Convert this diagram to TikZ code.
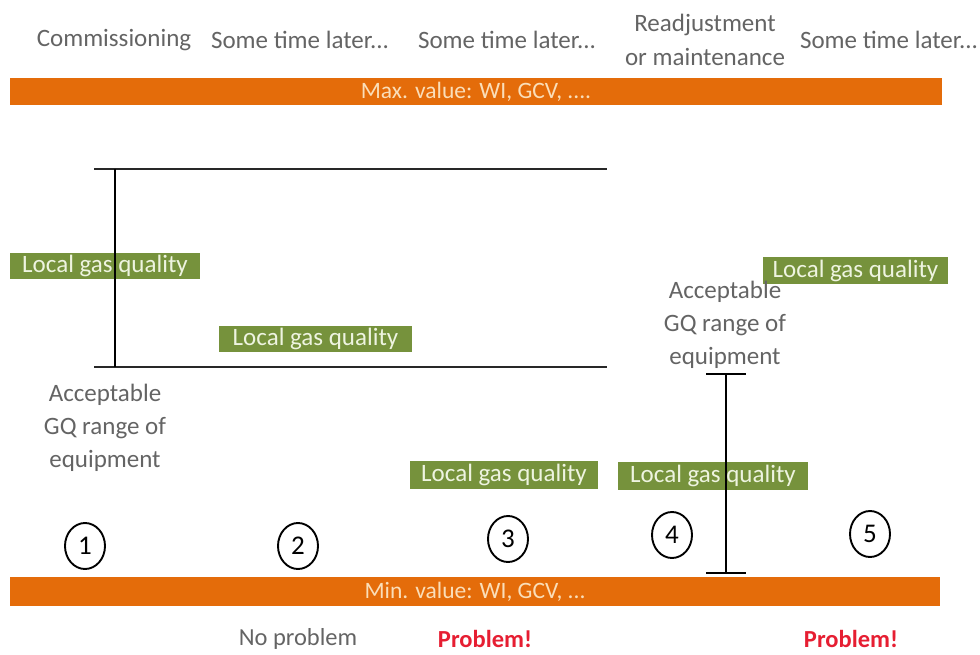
\documentclass[tikz,border=0pt]{standalone}
\usepackage{fontspec}
\setmainfont{Carlito}
\usetikzlibrary{shapes.geometric}
\definecolor{barorange}{RGB}{228,108,10}
\definecolor{bartext}{RGB}{250,222,185}
\definecolor{gqgreen}{RGB}{118,146,60}
\definecolor{gqtext}{RGB}{238,244,224}
\definecolor{labelgray}{RGB}{100,100,100}
\definecolor{alertred}{RGB}{230,30,50}
\definecolor{rangeline}{RGB}{40,40,40}
\tikzset{
  toplabel/.style={text=labelgray, font=\fontsize{25}{34}\selectfont, align=center, inner sep=0},
  limitbar/.style={fill=barorange, text=bartext, font=\fontsize{23.5}{26}\selectfont, inner sep=0, minimum width=930pt, minimum height=28pt},
  gqbox/.style={fill=gqgreen, text=gqtext, font=\fontsize{25}{26}\selectfont, inner sep=0, minimum height=27pt},
  rangetext/.style={text=labelgray, font=\fontsize{25}{33}\selectfont, align=center, inner sep=0},
  stagenum/.style={draw=black, line width=1.9pt, ellipse, minimum width=40pt, minimum height=46pt, inner sep=0, font=\fontsize{27}{28}\selectfont},
  rangebar/.style={draw=rangeline, line width=2.8pt},
  rangespan/.style={draw=black, line width=2.4pt},
  verdict/.style={font=\fontsize{24.5}{26}\selectfont, inner sep=0},
}
\begin{document}
\begin{tikzpicture}[x=1pt,y=-1pt]
\useasboundingbox (0,0) rectangle (980,655);

% stage headings
\node[toplabel] (h1) at (114,40) {Commissioning};
\node[toplabel] (h2) at (300,40) {Some time later...};
\node[toplabel] (h3) at (507,40) {Some time later...};
\node[toplabel] (h4) at (705,40) {Readjustment\\or maintenance};
\node[toplabel] (h5) at (889,40) {Some time later...};

% limit bars
\node[limitbar, minimum width=932pt, minimum height=27pt] (maxbar) at (476,91.5) {Max. value: WI, GCV, ....};
\node[limitbar, minimum height=29pt] (minbar) at (475,591.5) {Min. value: WI, GCV, ...};

% local gas quality at each stage
\node[gqbox, minimum width=190pt, minimum height=26pt] (g1) at (105,266) {Local gas quality};
\node[gqbox, minimum width=193pt, minimum height=26pt] (g2) at (315.5,339) {Local gas quality};
\node[gqbox, minimum width=188pt, minimum height=28pt] (g3) at (504,474.5) {Local gas quality};
\node[gqbox, minimum width=190pt, minimum height=28pt] (g4) at (713,476) {Local gas quality};
\node[gqbox, minimum width=185pt, minimum height=27pt] (g5) at (855.5,270.5) {Local gas quality};

% original acceptable range of the equipment
\coordinate (hiL) at (94,169);
\coordinate (hiR) at (607,169);
\coordinate (loL) at (94,367);
\coordinate (loR) at (607,367);
\coordinate (spanTop) at (115,169);
\coordinate (spanBot) at (115,367);
\draw[rangebar] (hiL) -- (hiR);
\draw[rangebar] (loL) -- (loR);
\draw[rangespan] (spanTop) -- (spanBot);
\node[rangetext] (acc1) at (105,428) {Acceptable\\GQ range of\\equipment};

% range after readjustment
\coordinate (rTop) at (726,374);
\coordinate (rBot) at (726,573);
\coordinate (rTopL) at (706,374);
\coordinate (rTopR) at (746,374);
\coordinate (rBotL) at (706,573);
\coordinate (rBotR) at (746,573);
\draw[rangespan] (rTop) -- (rBot);
\draw[rangespan] (rTopL) -- (rTopR);
\draw[rangespan] (rBotL) -- (rBotR);
\node[rangetext] (acc2) at (725,325) {Acceptable\\GQ range of\\equipment};

% stage numbers
\node[stagenum] (n1) at (85,546) {1};
\node[stagenum] (n2) at (298,546) {2};
\node[stagenum] (n3) at (508,539) {3};
\node[stagenum] (n4) at (672,535) {4};
\node[stagenum] (n5) at (870,534) {5};

% outcomes
\node[verdict, text=labelgray] (v2) at (298,639) {No problem};
\node[verdict, text=alertred, font=\fontsize{24.5}{26}\selectfont\bfseries] (v3) at (485,639) {Problem!};
\node[verdict, text=alertred, font=\fontsize{24.5}{26}\selectfont\bfseries] (v5) at (851,639) {Problem!};
\end{tikzpicture}
\end{document}
